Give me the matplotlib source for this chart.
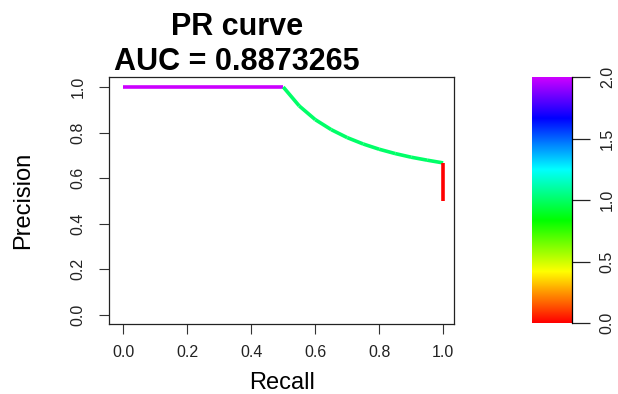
import colorsys
import numpy as np
import matplotlib
matplotlib.use("Agg")
import matplotlib.pyplot as plt
from matplotlib.collections import LineCollection
from matplotlib.colors import ListedColormap, Normalize

plt.rcParams['font.family'] = ['Liberation Sans', 'DejaVu Sans']

# PR curve points (recall, precision, threshold score)
recall = [0.0, 0.5, 0.55, 0.6, 0.65, 0.7, 0.75, 0.8, 0.85, 0.9, 0.95, 1.0, 1.0]
precision = [1.0, 1.0, 0.917, 0.857, 0.813, 0.778, 0.75, 0.727, 0.708, 0.692, 0.679, 0.667, 0.5]
# score of each segment between consecutive points
seg_score = [2.0, 1.0, 1.0, 1.0, 1.0, 1.0, 1.0, 1.0, 1.0, 1.0, 1.0, 0.0]

auc = 0.8873265
x_ticks = [0.0, 0.2, 0.4, 0.6, 0.8, 1.0]
y_ticks = [0.0, 0.2, 0.4, 0.6, 0.8, 1.0]
cb_ticks = [0.0, 0.5, 1.0, 1.5, 2.0]

# R-style rainbow(start=0, end=0.8)
hues = np.linspace(0, 0.8, 256)
rainbow = ListedColormap([colorsys.hsv_to_rgb(h, 1, 1) for h in hues])
norm = Normalize(0, 2)

W, H = 618, 394
fig = plt.figure(figsize=(W / 100, H / 100), dpi=100)

# main panel
ax = fig.add_axes([109 / W, 1 - 324 / H, 345 / W, 247 / H])
pts = np.column_stack([recall, precision])
segs = [pts[i:i + 2] for i in range(len(pts) - 1)]
lc = LineCollection(segs, cmap=rainbow, norm=norm, linewidths=2.6, capstyle='butt')
lc.set_array(np.array(seg_score))
ax.add_collection(lc)
ax.set_xlim(-0.045, 1.034)
ax.set_ylim(-0.04, 1.044)
ax.set_xticks(x_ticks)
ax.set_yticks(y_ticks)
ax.set_xticklabels(['%.1f' % t for t in x_ticks])
ax.set_yticklabels(['%.1f' % t for t in y_ticks], rotation=90, va='center')
ax.tick_params(axis='x', direction='out', length=7, width=0.8, pad=8,
               labelsize=11.5, colors='#333333', labelcolor='#222222')
ax.tick_params(axis='y', direction='out', length=7, width=0.8, pad=10,
               labelsize=11.5, colors='#333333', labelcolor='#222222')
for sp in ax.spines.values():
    sp.set_color('#222222')
    sp.set_linewidth(0.9)

fig.text(237 / W, 1 - 35 / H, 'PR curve', ha='center', va='baseline',
         fontsize=22, fontweight='bold')
fig.text(237 / W, 1 - 70 / H, 'AUC = %.7f' % auc, ha='center', va='baseline',
         fontsize=22, fontweight='bold')
fig.text(282 / W, 1 - 383 / H, 'Recall', ha='center', va='center', fontsize=17)
fig.text(23 / W, 1 - 200 / H, 'Precision', ha='center', va='center',
         rotation=90, fontsize=17)

# colour bar
cax = fig.add_axes([532 / W, 1 - 323 / H, 40 / W, 246 / H])
grad = np.linspace(0, 2, 256).reshape(-1, 1)
cax.imshow(grad, cmap=rainbow, norm=norm, aspect='auto', origin='lower',
           extent=[0, 1, 0, 2])
cax.set_xlim(0, 1)
cax.set_ylim(0, 2)
cax.set_xticks([])
cax.yaxis.tick_right()
cax.set_yticks(cb_ticks)
cax.set_yticklabels(['%.1f' % t for t in cb_ticks], rotation=90, va='center')
cax.tick_params(axis='y', direction='out', length=13, width=0.9, pad=7,
                labelsize=11.5, colors='#222222')
for name, sp in cax.spines.items():
    sp.set_visible(name == 'right')
cax.spines['right'].set_linewidth(0.9)

fig.savefig('out.png', dpi=100, facecolor='white')
